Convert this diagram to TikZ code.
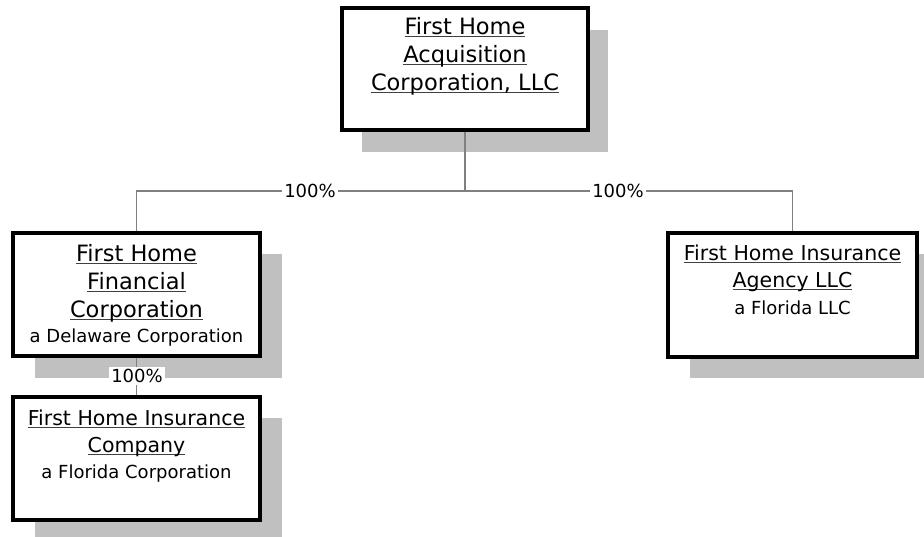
\documentclass[tikz,border=0pt]{standalone}
\usepackage{fontspec}
\setmainfont{DejaVu Sans}
\newcommand\ulx[1]{\setbox0\hbox{#1}\rlap{\color{black!75}\vrule height -1.6pt depth 2.9pt width \wd0}\box0}
\newcommand\bigf{\fontsize{22.5}{28}\selectfont}
\newcommand\midf{\fontsize{20.5}{27}\selectfont}
\newcommand\smallf{\fontsize{18}{22}\selectfont}
\definecolor{shadowgray}{RGB}{192,192,192}
\definecolor{linegray}{RGB}{128,128,128}
\tikzset{
  entity/.style={draw=black, line width=3.5pt, fill=white, inner sep=0pt},
  conn/.style={draw=linegray, line width=1.5pt},
  pct/.style={fill=white, inner sep=2pt, font=\smallf},
  boxtext/.style={align=center, anchor=base, inner sep=0pt}
}
\begin{document}
\begin{tikzpicture}[x=1pt,y=-1pt]
\clip (0,0) rectangle (924,536);
\fill[white] (0,0) rectangle (924,536);
% shadows
\fill[shadowgray] (362,30) rectangle (608,152);
\fill[shadowgray] (35,254) rectangle (282,378);
\fill[shadowgray] (35,418) rectangle (282,541);
\fill[shadowgray] (690,254) rectangle (939,378);
\coordinate (j) at (465,191);
% boxes
\node[entity, minimum width=246pt, minimum height=122pt] (top) at (465,69) {};
\node[entity, minimum width=247pt, minimum height=123pt] (fin) at (136.5,294.5) {};
\node[entity, minimum width=247pt, minimum height=123pt] (ins) at (136.5,458.5) {};
\node[entity, minimum width=249pt, minimum height=124pt] (agy) at (792.5,295) {};
% connectors
\draw[conn] (top.south) -- (j);
\draw[conn] (j) -| (fin.north);
\draw[conn] (j) -| (agy.north);
\draw[conn] (fin.south) -- (ins.north);
\node[pct] (p1) at (310,191) {100\%};
\node[pct] (p2) at (618,191) {100\%};
\node[pct] (p3) at (137,376) {100\%};
% texts (anchor = baseline of last line)
\node[boxtext, font=\bigf] (toptxt) at (465,90) {\ulx{First Home}\\\ulx{Acquisition}\\\ulx{Corporation, LLC}};
\node[boxtext, font=\bigf] (fintxt) at (136.5,342) {\ulx{First Home}\\\ulx{Financial}\\\ulx{Corporation}\\[-3pt]{\smallf a Delaware Corporation}};
\node[boxtext, font=\midf] (instxt) at (136.5,478) {\ulx{First Home Insurance}\\\ulx{Company}\\[-1pt]{\smallf a Florida Corporation}};
\node[boxtext, font=\midf] (agytxt) at (792.5,314) {\ulx{First Home Insurance}\\\ulx{Agency LLC}\\{\smallf a Florida LLC}};
\end{tikzpicture}
\end{document}
